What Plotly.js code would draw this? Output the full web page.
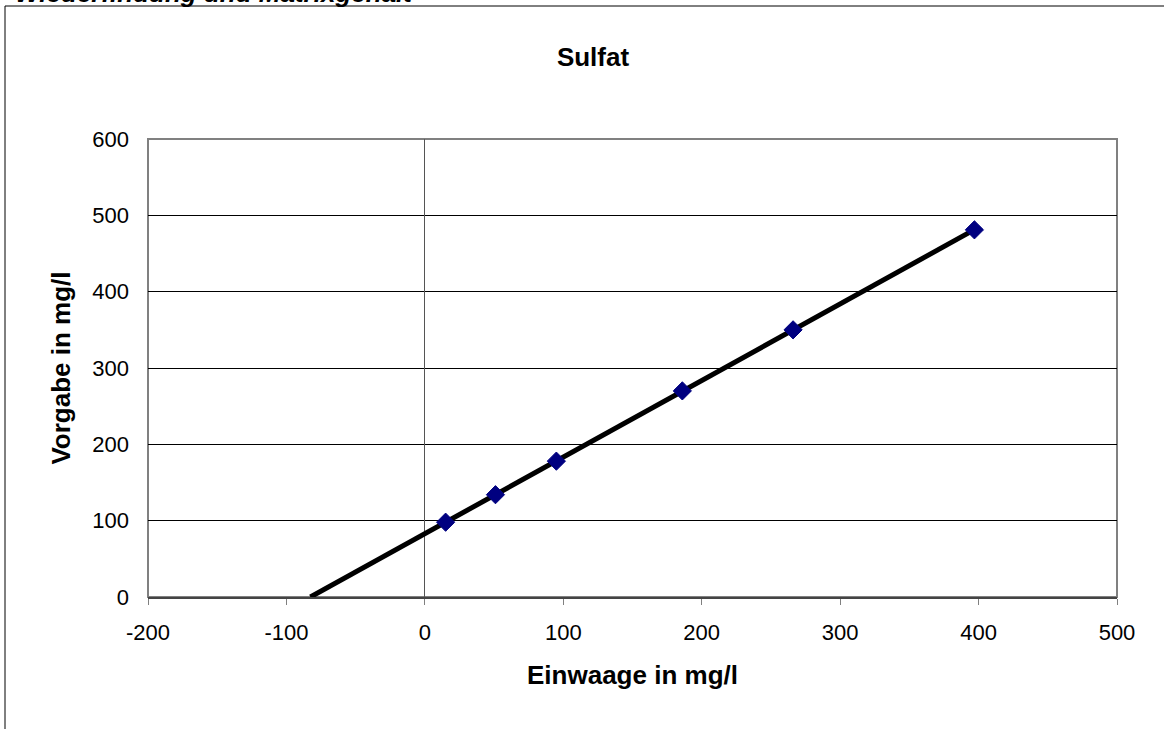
<!DOCTYPE html>
<html>
<head>
<meta charset="utf-8">
<script src="https://cdn.plot.ly/plotly-3.0.1.min.js"></script>
<style>
html,body{margin:0;padding:0;background:#fff;overflow:hidden;}
#chart{width:1164px;height:729px;}
</style>
</head>
<body>
<div id="chart"></div>
<script>
// Data
const einwaage = [15, 51, 95, 186, 266, 397];   // x: Einwaage in mg/l
const vorgabe  = [98, 134, 178, 270, 350, 481]; // y: Vorgabe in mg/l
const xTicks = [-200, -100, 0, 100, 200, 300, 400, 500];
const xTickText = ["-200", "-100", "0", "100", "200", "300", "400", "500"];
const yTicks = [0, 100, 200, 300, 400, 500, 600];
const chartTitle = "Sulfat";
const sheetTitle = "Wiederfindung und Matrixgehalt";
const xTitle = "Einwaage in mg/l";
const yTitle = "Vorgabe in mg/l";

// Linear trendline (least squares), extended back to y = 0 as in the original
const n = einwaage.length;
const mx = einwaage.reduce((a,b)=>a+b,0)/n;
const my = vorgabe.reduce((a,b)=>a+b,0)/n;
let sxy=0, sxx=0;
for(let i=0;i<n;i++){sxy+=(einwaage[i]-mx)*(vorgabe[i]-my);sxx+=(einwaage[i]-mx)**2;}
const slope = sxy/sxx, icpt = my - slope*mx;
const xStart = -icpt/slope, xEnd = Math.max(...einwaage);
const trendX = [xStart, xEnd];
const trendY = trendX.map(x=>slope*x+icpt);

const W=1164,H=729, L=148, R=1117, T=139, B=597;
const pw=R-L, ph=B-T;
const px = v => (v-L)/pw;
const py = v => (B-v)/ph;

const traces = [
  {x: trendX, y: trendY, mode:'lines', line:{color:'#000', width:5}, hoverinfo:'skip', showlegend:false},
  {x: einwaage, y: vorgabe, mode:'markers', marker:{symbol:'diamond', size:14, color:'#000080', line:{color:'#000080', width:1}}, showlegend:false}
];

const font = "Liberation Sans, Arial, sans-serif";
const layout = {
  width:W, height:H,
  margin:{l:L, r:W-R, t:T, b:H-B, pad:0},
  paper_bgcolor:'#fff', plot_bgcolor:'#fff',
  font:{family:font, color:'#000', size:22},
  title:{text:'<b>'+chartTitle+'</b>', font:{size:26, family:font}, x:593/W, xanchor:'center', xref:'container', yref:'container', y:1-57/H, yanchor:'middle'},
  xaxis:{range:[-200,500], tickvals:xTicks, ticktext:xTickText, ticks:'outside', ticklen:6, tickcolor:'#808080', tickwidth:1,
    showgrid:false, zeroline:true, zerolinecolor:'#555', zerolinewidth:1,
    showline:true, linecolor:'#444', linewidth:2, mirror:false,
    tickfont:{size:22, family:font}, ticklabelstandoff:9,
    title:{text:'<b>'+xTitle+'</b>', font:{size:26, family:font}, standoff:21}},
  yaxis:{range:[0,600], tickvals:yTicks, ticks:'', showgrid:true, gridcolor:'#000', gridwidth:1,
    zeroline:false, showline:false,
    tickfont:{size:22, family:font}, ticklabelstandoff:18,
    title:{text:'<b>'+yTitle+'</b>', font:{size:26, family:font}, standoff:14}},
  shapes:[
    {type:'rect', xref:'paper', yref:'paper', x0:0, x1:1, y0:0, y1:1, line:{color:'#808080', width:2}, layer:'below'},
    {type:'rect', xref:'paper', yref:'paper', x0:px(5), x1:px(W+20), y0:py(6), y1:py(H+20), line:{color:'#000', width:1}, layer:'below'}
  ],
  annotations:[
    {text:'<b><i>'+sheetTitle+'</i></b>', xref:'paper', yref:'paper', x:px(13), y:py(10), xanchor:'left', yanchor:'bottom', showarrow:false, font:{size:26, family:font}}
  ]
};
Plotly.newPlot('chart', traces, layout, {displayModeBar:false, staticPlot:true});
</script>
</body>
</html>
